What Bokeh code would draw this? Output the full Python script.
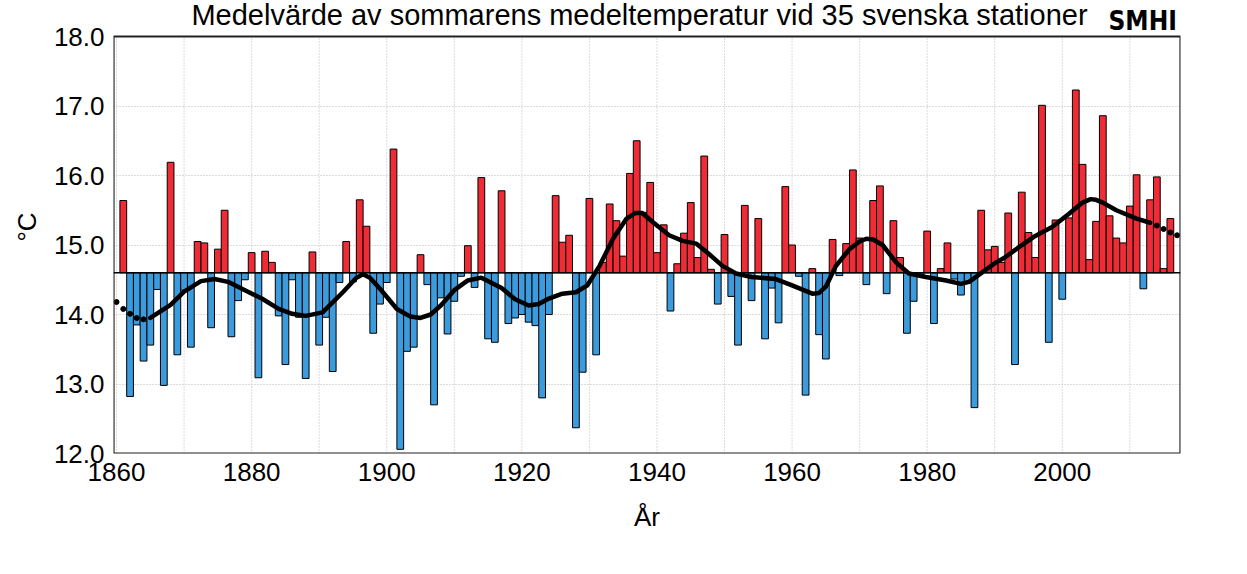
from bokeh.plotting import figure
from bokeh.models import ColumnDataSource, Range1d, FixedTicker, Span
from bokeh.core.properties import value
from bokeh.embed import file_html
from bokeh.resources import INLINE

# ---------------- data ----------------
title_text = "Medelvärde av sommarens medeltemperatur vid 35 svenska stationer"
x_label = "År"
y_label = "°C"
logo_text = "SMHI"

baseline = 14.6

years = list(range(1861, 2017))
temps = [
    15.64, 12.82, 13.85, 13.33, 13.56, 14.36, 12.98, 16.19, 13.42, 14.35,  # 1861-1870
    13.53, 15.05, 15.03, 13.81, 14.94, 15.50, 13.68, 14.20, 14.50, 14.89,  # 1871-1880
    13.09, 14.91, 14.75, 13.98, 13.28, 14.50, 13.96, 13.08, 14.90, 13.56,  # 1881-1890
    13.96, 13.18, 14.46, 15.05, 14.47, 15.65, 15.27, 13.73, 14.15, 14.46,  # 1891-1900
    16.38, 12.06, 13.47, 13.53, 14.86, 14.43, 12.70, 14.24, 13.72, 14.19,  # 1901-1910
    14.55, 14.99, 14.39, 15.97, 13.65, 13.60, 15.78, 13.87, 13.95, 14.00,  # 1911-1920
    13.89, 13.84, 12.80, 14.00, 15.71, 15.04, 15.14, 12.37, 13.17, 15.67,  # 1921-1930
    13.42, 14.75, 15.59, 15.35, 14.84, 16.03, 16.50, 15.47, 15.90, 14.89,  # 1931-1940
    15.29, 14.05, 14.73, 15.17, 15.61, 14.82, 16.28, 14.65, 14.15, 15.15,  # 1941-1950
    14.26, 13.56, 15.57, 14.20, 15.38, 13.65, 14.38, 13.88, 15.84, 15.00,  # 1951-1960
    14.55, 12.84, 14.66, 13.71, 13.36, 15.08, 14.56, 15.02, 16.08, 15.10,  # 1961-1970
    14.43, 15.64, 15.85, 14.30, 15.35, 14.82, 13.73, 14.19, 14.55, 15.20,  # 1971-1980
    13.87, 14.66, 15.03, 14.51, 14.28, 14.46, 12.66, 15.50, 14.93, 14.98,  # 1981-1990
    14.75, 15.46, 13.28, 15.76, 15.18, 14.82, 17.01, 13.60, 15.36, 14.22,  # 1991-2000
    15.39, 17.23, 16.16, 14.79, 15.34, 16.86, 15.42, 15.10, 15.03, 15.56,  # 2001-2010
    16.01, 14.37, 15.65, 15.98, 14.66, 15.38,                              # 2011-2016
]

# smoothed curve (solid part)
trend_years = [1865, 1868, 1870, 1872.5, 1874.5, 1876.5, 1879, 1881.5, 1884, 1886,
               1888, 1890.5, 1893.5, 1895.5, 1896.5, 1897.5, 1899, 1901.5, 1903.5, 1905,
               1906.5, 1908, 1910, 1912, 1914, 1917, 1919, 1921, 1922.5, 1924,
               1926, 1928, 1929.7, 1931.5, 1933.5, 1935.5, 1936.8, 1937.8, 1939.5, 1941.8,
               1943.8, 1945.8, 1947.7, 1949.7, 1951.7, 1954, 1957.6, 1960, 1963, 1964,
               1965, 1966.5, 1968.5, 1970, 1971, 1972, 1973.4, 1975.4, 1977.3, 1979.8,
               1982.8, 1985, 1986.2, 1988.2, 1990.2, 1991.5, 1993.6, 1996, 1998.5, 2001,
               2003, 2004.2, 2005, 2006, 2008, 2011, 2013]
trend_temps = [13.95, 14.14, 14.33, 14.48, 14.51, 14.47, 14.35, 14.23, 14.08, 14.01,
               13.98, 14.03, 14.32, 14.53, 14.58, 14.53, 14.37, 14.08, 13.97, 13.95,
               14.00, 14.13, 14.35, 14.49, 14.53, 14.38, 14.22, 14.13, 14.15, 14.23,
               14.30, 14.32, 14.42, 14.70, 15.09, 15.38, 15.46, 15.46, 15.32, 15.14,
               15.06, 15.02, 14.87, 14.70, 14.59, 14.54, 14.51, 14.42, 14.30, 14.31,
               14.40, 14.70, 14.94, 15.05, 15.09, 15.08, 15.00, 14.75, 14.59, 14.54,
               14.49, 14.44, 14.47, 14.61, 14.75, 14.82, 14.97, 15.13, 15.26, 15.45,
               15.61, 15.66, 15.65, 15.61, 15.50, 15.38, 15.32]

# dotted (uncertain) ends of the curve
dots_years = [1860, 1861, 1862, 1863, 1864, 2014, 2015, 2016, 2017]
dots_temps = [14.18, 14.08, 14.01, 13.95, 13.93, 15.28, 15.23, 15.18, 15.14]

x_ticks = [1860, 1880, 1900, 1920, 1940, 1960, 1980, 2000]
x_grid_ticks = list(range(1860, 2020, 10))
y_ticks = [12, 13, 14, 15, 16, 17, 18]
y_tick_labels = ["12.0", "13.0", "14.0", "15.0", "16.0", "17.0", "18.0"]

X_START, X_END = 1859.55, 2017.5
Y_MIN, Y_MAX = 12.0, 18.0

RED = "#ef2b36"
BLUE = "#3b9bdc"
FONT = "Liberation Sans"

# ---------------- figure ----------------
W, H = 1231, 558
MB_L, MB_R, MB_T, MB_B = 113, 51, 0, 105
PLOT_TOP_PAD = 36                       # px between canvas top and the 18.0 line
frame_h = H - MB_T - MB_B
px_per_deg = (frame_h - PLOT_TOP_PAD) / (Y_MAX - Y_MIN)
px_per_year = (W - MB_L - MB_R) / (X_END - X_START)
y_top = Y_MAX + PLOT_TOP_PAD / px_per_deg


def px_above_top(px):
    return Y_MAX + px / px_per_deg


def px_from_left(px):
    return X_START + px / px_per_year


p = figure(width=W, height=H, output_backend="svg", toolbar_location=None,
           x_range=Range1d(X_START, X_END), y_range=Range1d(Y_MIN, y_top),
           min_border_left=MB_L, min_border_right=MB_R,
           min_border_top=MB_T, min_border_bottom=MB_B)
p.background_fill_color = "white"
p.border_fill_color = "white"
p.outline_line_color = None

# grid lines (kept inside the 12-18 box)
p.xgrid.grid_line_color = None
p.ygrid.ticker = FixedTicker(ticks=y_ticks)
p.ygrid.grid_line_color = "#b8b8b8"
p.ygrid.grid_line_dash = "1 2"
p.ygrid.grid_line_width = 1
p.segment(x0=x_grid_ticks, y0=[Y_MIN] * len(x_grid_ticks),
          x1=x_grid_ticks, y1=[Y_MAX] * len(x_grid_ticks),
          line_color="#b8b8b8", line_dash="1 2", line_width=1)

colors = [RED if t >= baseline else BLUE for t in temps]
src = ColumnDataSource(dict(year=years, temp=temps, color=colors))
p.vbar(x="year", width=1.0, bottom=baseline, top="temp", source=src,
       fill_color="color", line_color="black", line_width=1)

p.add_layout(Span(location=baseline, dimension="width",
                  line_color="black", line_width=1.5))

p.line(trend_years, trend_temps, line_color="black", line_width=4.5,
       line_join="round", line_cap="round")
p.scatter(dots_years, dots_temps, marker="circle", size=5,
          fill_color="black", line_color="black")

# plot box (12-18)
p.quad(left=[X_START], right=[X_END], bottom=[Y_MIN], top=[Y_MAX],
       fill_color=None, line_color="#222222", line_width=2.2)

# axes
p.xaxis.ticker = FixedTicker(ticks=x_ticks)
p.yaxis.ticker = FixedTicker(ticks=y_ticks)
p.yaxis.major_label_overrides = {t: l for t, l in zip(y_ticks, y_tick_labels)}
for ax in (p.xaxis, p.yaxis):
    ax.axis_line_color = None
    ax.major_tick_line_color = None
    ax.minor_tick_line_color = None
    ax.major_tick_out = 0
    ax.major_tick_in = 0
    ax.major_label_text_font = FONT
    ax.major_label_text_font_size = "26px"
    ax.major_label_text_color = "black"
    ax.axis_label_text_font = FONT
    ax.axis_label_text_font_size = "26px"
    ax.axis_label_text_font_style = "normal"
    ax.axis_label_text_color = "black"

p.xaxis.axis_label = x_label
p.yaxis.axis_label = y_label
p.xaxis.major_label_standoff = 9
p.xaxis.axis_label_standoff = 18
p.yaxis.major_label_standoff = 9
p.yaxis.axis_label_standoff = 9

# title and logo (drawn inside the top strip of the frame)
p.text(x=[px_from_left(526)], y=[px_above_top(22)], text=[title_text],
       text_align="center", text_baseline="alphabetic",
       text_font=value(FONT), text_font_size="29px", text_color="black")
p.text(x=[px_from_left(995)], y=[px_above_top(16)], text=[logo_text],
       text_align="left", text_baseline="alphabetic",
       text_font=value("DejaVu Sans Condensed, sans-serif"),
       text_font_style="bold", text_font_size="26px", text_color="black")

open("out.html", "w").write(file_html(p, INLINE))
